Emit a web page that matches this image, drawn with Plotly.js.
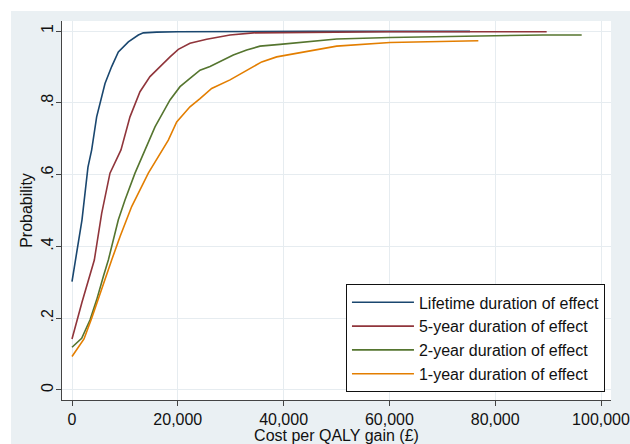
<!DOCTYPE html>
<html>
<head>
<meta charset="utf-8">
<script src="https://cdn.plot.ly/plotly-3.0.1.min.js"></script>
<style>
html,body{margin:0;padding:0;background:#ffffff;overflow:hidden;}
#chart{position:absolute;left:11px;top:11px;width:619px;height:433px;}
</style>
</head>
<body>
<div id="chart"></div>
<script>
// Cost per QALY gain (£) thresholds and probability cost-effective
var lifetimeX = [0, 700, 1890, 3020, 3720, 4660, 6240, 7500, 8760, 10650, 12540, 13480, 16000, 20000, 30000, 45000, 60000, 75240];
var lifetimeY = [0.302, 0.362, 0.474, 0.621, 0.669, 0.761, 0.854, 0.901, 0.942, 0.970, 0.989, 0.995, 0.997, 0.998, 0.999, 0.999, 0.999, 0.999];

var fiveYearX = [0, 1900, 4220, 5610, 7180, 9260, 10960, 12850, 14740, 16640, 18530, 20100, 22300, 25460, 29870, 34280, 45000, 60000, 75000, 89730];
var fiveYearY = [0.142, 0.245, 0.362, 0.492, 0.604, 0.669, 0.761, 0.831, 0.873, 0.901, 0.928, 0.949, 0.966, 0.977, 0.989, 0.995, 0.997, 0.998, 0.998, 0.998];

var twoYearX = [0, 1830, 3400, 4660, 5920, 6870, 8760, 10020, 11910, 13800, 15690, 18530, 20420, 22300, 24200, 26090, 27980, 30490, 33020, 35540, 39320, 43100, 46880, 50030, 60110, 75240, 89040, 96350];
var twoYearY = [0.119, 0.144, 0.195, 0.251, 0.316, 0.362, 0.474, 0.529, 0.604, 0.669, 0.733, 0.808, 0.845, 0.868, 0.891, 0.901, 0.914, 0.933, 0.947, 0.958, 0.963, 0.968, 0.975, 0.978, 0.982, 0.986, 0.989, 0.989];

var oneYearX = [0, 2270, 3720, 5290, 7500, 9070, 11280, 14430, 16000, 18210, 19790, 22300, 24200, 26400, 29870, 33020, 35860, 38690, 42480, 46880, 50030, 60110, 70190, 76810];
var oneYearY = [0.093, 0.142, 0.200, 0.269, 0.362, 0.427, 0.511, 0.604, 0.641, 0.696, 0.747, 0.789, 0.812, 0.840, 0.864, 0.891, 0.914, 0.928, 0.938, 0.949, 0.958, 0.968, 0.972, 0.973];

var seriesNames = ["Lifetime duration of effect", "5-year duration of effect", "2-year duration of effect", "1-year duration of effect"];
var seriesColors = ["#1a476f", "#90353b", "#55752f", "#e37e00"];

var xTickVals = [0, 20000, 40000, 60000, 80000, 100000];
var xTickText = ["0", "20,000", "40,000", "60,000", "80,000", "100,000"];
var yTickVals = [0, 0.2, 0.4, 0.6, 0.8, 1];
var yTickText = ["0", ".2", ".4", ".6", ".8", "1"];

var xs = [lifetimeX, fiveYearX, twoYearX, oneYearX];
var ys = [lifetimeY, fiveYearY, twoYearY, oneYearY];

var traces = [];
for (var i = 0; i < 4; i++) {
  traces.push({
    x: xs[i], y: ys[i], type: 'scatter', mode: 'lines',
    name: seriesNames[i],
    line: {color: seriesColors[i], width: 1.6}
  });
}

var gridC = '#e6ecf0';
var layout = {
  width: 619, height: 433,
  margin: {l: 51, r: 19, t: 10, b: 44},
  paper_bgcolor: '#eaf0f3',
  plot_bgcolor: '#ffffff',
  font: {family: 'Liberation Sans, Arial, sans-serif', size: 16, color: '#111111'},
  showlegend: true,
  legend: {
    x: 0.989, xanchor: 'right', y: 0.02, yanchor: 'bottom',
    bgcolor: '#ffffff', bordercolor: '#111111', borderwidth: 1,
    font: {size: 16, color: '#111111'},
    itemwidth: 62,
    tracegroupgap: 0
  },
  xaxis: {
    range: [-1890, 101890],
    tickvals: xTickVals, ticktext: xTickText,
    ticklabeloverflow: 'allow',
    ticks: 'outside', ticklen: 5, tickcolor: '#444', tickwidth: 1,
    showline: true, linecolor: '#444', linewidth: 1,
    showgrid: true, gridcolor: gridC, gridwidth: 1,
    zeroline: false,
    title: {text: 'Cost per QALY gain (£)', font: {size: 16}, standoff: 0}
  },
  yaxis: {
    range: [-0.028, 1.028],
    tickvals: yTickVals, ticktext: yTickText,
    tickangle: -90,
    ticklabelstandoff: -3,
    ticks: 'outside', ticklen: 5, tickcolor: '#444', tickwidth: 1,
    showline: true, linecolor: '#444', linewidth: 1,
    showgrid: true, gridcolor: gridC, gridwidth: 1,
    zeroline: false,
    title: {text: 'Probability', font: {size: 16}, standoff: 1}
  }
};

Plotly.newPlot('chart', traces, layout, {displayModeBar: false, staticPlot: true});
</script>
</body>
</html>
